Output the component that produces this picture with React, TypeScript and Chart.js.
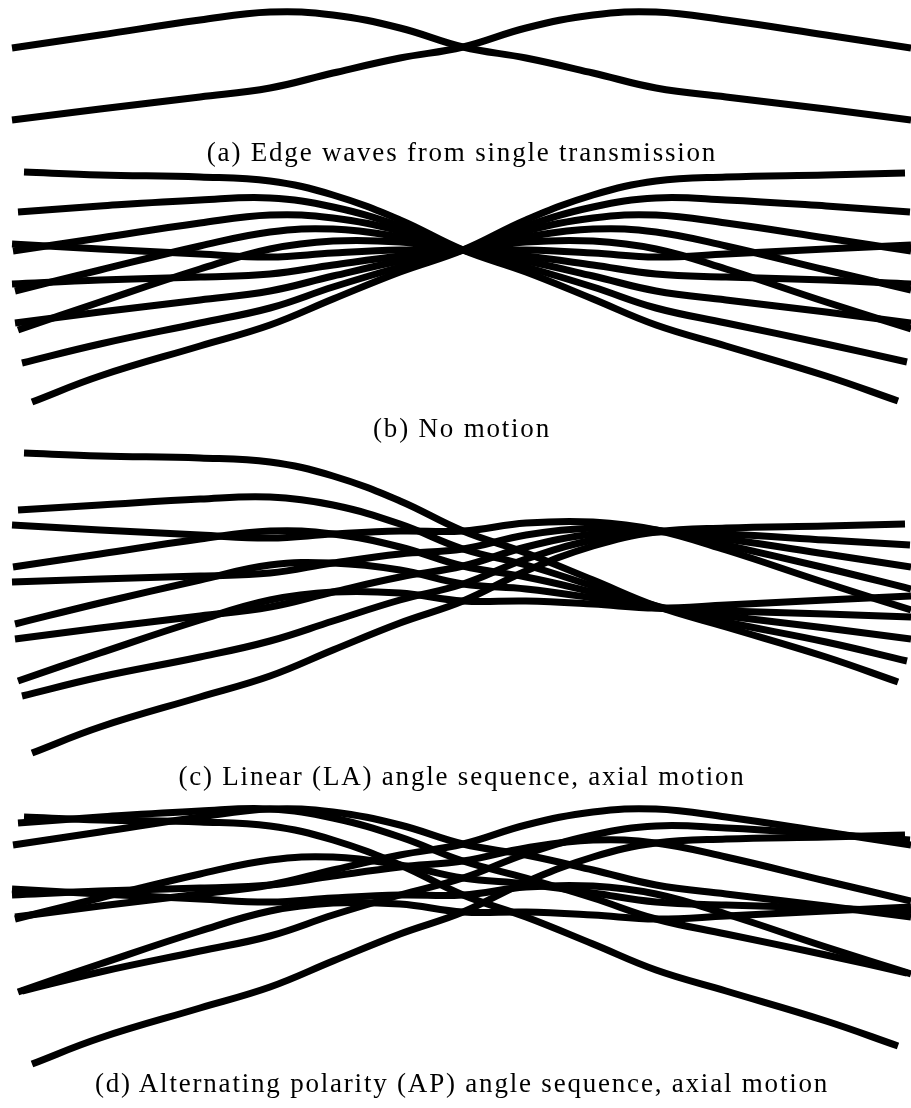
import React, { useEffect, useRef } from "react";
import { Chart, registerables } from "chart.js";

Chart.register(...registerables);

// Interior receive positions (lateral axis) shared by every trace.
const LATERAL_GRID = [100, 200, 270, 333, 400, 463, 526, 593, 656, 726, 826];

// (a) Single transmission: wave from the left edge and from the right edge.
const SINGLE_LEFT_EDGE = [48, 35, 20, 12, 15, 28, 47, 58, 73, 88, 97, 109, 120];
const SINGLE_RIGHT_EDGE = [120, 109, 97, 88, 73, 58, 47, 28, 15, 12, 20, 35, 48];
const SINGLE_START = [12, 12];
const SINGLE_END = [911, 911];

// Where each of the ten steered traces begins and ends laterally
// (left-edge waves for angles +2..-2, then right-edge waves for +2..-2).
const STEERED_START = [24, 18, 13, 15, 18, 12, 12, 15, 22, 32];
const STEERED_END = [898, 907, 911, 911, 911, 911, 911, 911, 910, 905];

// (b) No motion: five steering angles, all traces meet at one point.
const STILL_L_P2 = [172, 175, 177, 181, 195, 220, 250, 272, 299, 325, 346, 376, 401];
const STILL_L_P1 = [212, 206, 200, 198, 207, 226, 250, 267, 287, 308, 323, 344, 362];
const STILL_L_0 = [251, 238, 223, 215, 218, 231, 250, 261, 276, 291, 300, 312, 323];
const STILL_L_M1 = [291, 270, 246, 232, 229, 237, 250, 256, 265, 274, 277, 280, 284];
const STILL_L_M2 = [330, 302, 269, 249, 241, 242, 250, 250, 253, 257, 254, 249, 245];
const STILL_R_P2 = [244, 249, 254, 257, 253, 250, 250, 242, 241, 249, 269, 302, 329];
const STILL_R_P1 = [284, 280, 277, 274, 265, 256, 250, 237, 229, 232, 246, 270, 290];
const STILL_R_0 = [323, 312, 300, 291, 276, 261, 250, 231, 218, 215, 223, 238, 251];
const STILL_R_M1 = [363, 344, 323, 308, 287, 267, 250, 226, 207, 198, 200, 206, 212];
const STILL_R_M2 = [402, 376, 346, 325, 299, 272, 250, 220, 195, 181, 177, 175, 173];

// (c) Linear angle sequence with axial motion.
const LINEAR_L_P2 = [453, 456, 458, 462, 476, 501, 531, 553, 580, 606, 627, 657, 682];
const LINEAR_L_P1 = [510, 505, 499, 497, 505, 524, 549, 565, 586, 606, 622, 642, 661];
const LINEAR_L_0 = [567, 554, 539, 531, 534, 547, 566, 577, 592, 607, 616, 628, 639];
const LINEAR_L_M1 = [624, 603, 580, 565, 563, 570, 584, 589, 598, 608, 611, 614, 617];
const LINEAR_L_M2 = [681, 653, 620, 600, 592, 593, 601, 601, 604, 608, 605, 600, 596];
const LINEAR_R_P2 = [525, 530, 535, 538, 534, 531, 531, 523, 522, 530, 550, 583, 610];
const LINEAR_R_P1 = [582, 579, 576, 573, 563, 554, 549, 535, 528, 530, 545, 568, 589];
const LINEAR_R_0 = [639, 628, 616, 607, 592, 577, 566, 547, 534, 531, 539, 554, 567];
const LINEAR_R_M1 = [696, 677, 657, 641, 621, 600, 584, 559, 540, 532, 534, 540, 545];
const LINEAR_R_M2 = [753, 727, 697, 676, 650, 623, 601, 571, 546, 532, 528, 526, 524];

// (d) Alternating polarity angle sequence with axial motion.
const ALT_L_P2 = [817, 820, 822, 826, 840, 865, 895, 917, 944, 970, 991, 1021, 1046];
const ALT_L_P1 = [823, 817, 811, 809, 818, 837, 861, 878, 898, 919, 934, 955, 973];
const ALT_L_0 = [845, 832, 817, 809, 812, 825, 844, 855, 870, 885, 894, 906, 917];
const ALT_L_M1 = [919, 898, 874, 860, 857, 865, 878, 884, 893, 902, 905, 908, 912];
const ALT_L_M2 = [992, 964, 931, 911, 903, 904, 912, 912, 915, 919, 916, 911, 907];
const ALT_R_P2 = [889, 894, 899, 902, 898, 895, 895, 887, 886, 894, 914, 947, 974];
const ALT_R_P1 = [895, 891, 888, 885, 876, 867, 861, 848, 840, 843, 857, 881, 901];
const ALT_R_0 = [917, 906, 894, 885, 870, 855, 844, 825, 812, 809, 817, 832, 845];
const ALT_R_M1 = [991, 972, 951, 936, 915, 895, 878, 854, 835, 826, 828, 834, 840];
const ALT_R_M2 = [1064, 1038, 1008, 987, 961, 934, 912, 882, 857, 843, 839, 837, 835];

const CAPTIONS = [
  "(a) Edge waves from single transmission",
  "(b) No motion",
  "(c) Linear (LA) angle sequence, axial motion",
  "(d) Alternating polarity (AP) angle sequence, axial motion",
];

const FIGURE_WIDTH = 911;
const FIGURE_HEIGHT = 1108;
const CENTER_X = 462;

type PanelProps = {
  top: number;
  bottom: number;
  traces: number[][];
  starts: number[];
  ends: number[];
};

function WavePanel({ top, bottom, traces, starts, ends }: PanelProps) {
  const canvasRef = useRef<HTMLCanvasElement | null>(null);

  useEffect(() => {
    const canvas = canvasRef.current;
    if (!canvas) return;
    const datasets = traces.map((ys, i) => ({
      data: ys.map((y, j) => ({
        x: j === 0 ? starts[i] : j === ys.length - 1 ? ends[i] : LATERAL_GRID[j - 1],
        y,
      })),
      borderColor: "#000",
      borderWidth: 7,
      borderCapStyle: "butt" as const,
      pointRadius: 0,
      tension: 0.4,
      fill: false,
    }));
    const chart = new Chart(canvas, {
      type: "line",
      data: { datasets },
      options: {
        animation: false,
        responsive: false,
        maintainAspectRatio: false,
        devicePixelRatio: 1,
        events: [],
        layout: { padding: 0 },
        plugins: { legend: { display: false }, tooltip: { enabled: false } },
        scales: {
          x: { type: "linear", display: false, min: 0, max: FIGURE_WIDTH },
          y: { type: "linear", display: false, min: top, max: bottom, reverse: true },
        },
      },
    });
    return () => chart.destroy();
  }, [top, bottom, traces, starts, ends]);

  return (
    <canvas
      ref={canvasRef}
      width={FIGURE_WIDTH}
      height={bottom - top}
      style={{
        position: "absolute",
        left: 0,
        top,
        width: FIGURE_WIDTH,
        height: bottom - top,
      }}
    />
  );
}

function Caption({ text, baseline }: { text: string; baseline: number }) {
  return (
    <div
      style={{
        position: "absolute",
        left: CENTER_X,
        top: baseline - 23,
        transform: "translateX(-50%)",
        whiteSpace: "nowrap",
        fontFamily: '"Liberation Serif", "DejaVu Serif", serif',
        fontSize: 27,
        lineHeight: "27px",
        letterSpacing: 1.8,
        color: "#000",
      }}
    >
      {text}
    </div>
  );
}

const STILL_TRACES = [
  STILL_L_P2, STILL_L_P1, STILL_L_0, STILL_L_M1, STILL_L_M2,
  STILL_R_P2, STILL_R_P1, STILL_R_0, STILL_R_M1, STILL_R_M2,
];
const LINEAR_TRACES = [
  LINEAR_L_P2, LINEAR_L_P1, LINEAR_L_0, LINEAR_L_M1, LINEAR_L_M2,
  LINEAR_R_P2, LINEAR_R_P1, LINEAR_R_0, LINEAR_R_M1, LINEAR_R_M2,
];
const ALT_TRACES = [
  ALT_L_P2, ALT_L_P1, ALT_L_0, ALT_L_M1, ALT_L_M2,
  ALT_R_P2, ALT_R_P1, ALT_R_0, ALT_R_M1, ALT_R_M2,
];
const SINGLE_TRACES = [SINGLE_LEFT_EDGE, SINGLE_RIGHT_EDGE];

export default function App() {
  return (
    <div
      style={{
        position: "absolute",
        left: 0,
        top: 0,
        width: FIGURE_WIDTH,
        height: FIGURE_HEIGHT,
        background: "#fff",
        overflow: "hidden",
      }}
    >
      <WavePanel top={0} bottom={140} traces={SINGLE_TRACES} starts={SINGLE_START} ends={SINGLE_END} />
      <WavePanel top={160} bottom={415} traces={STILL_TRACES} starts={STEERED_START} ends={STEERED_END} />
      <WavePanel top={440} bottom={765} traces={LINEAR_TRACES} starts={STEERED_START} ends={STEERED_END} />
      <WavePanel top={795} bottom={1075} traces={ALT_TRACES} starts={STEERED_START} ends={STEERED_END} />
      <Caption text={CAPTIONS[0]} baseline={162} />
      <Caption text={CAPTIONS[1]} baseline={438} />
      <Caption text={CAPTIONS[2]} baseline={786} />
      <Caption text={CAPTIONS[3]} baseline={1093} />
    </div>
  );
}
